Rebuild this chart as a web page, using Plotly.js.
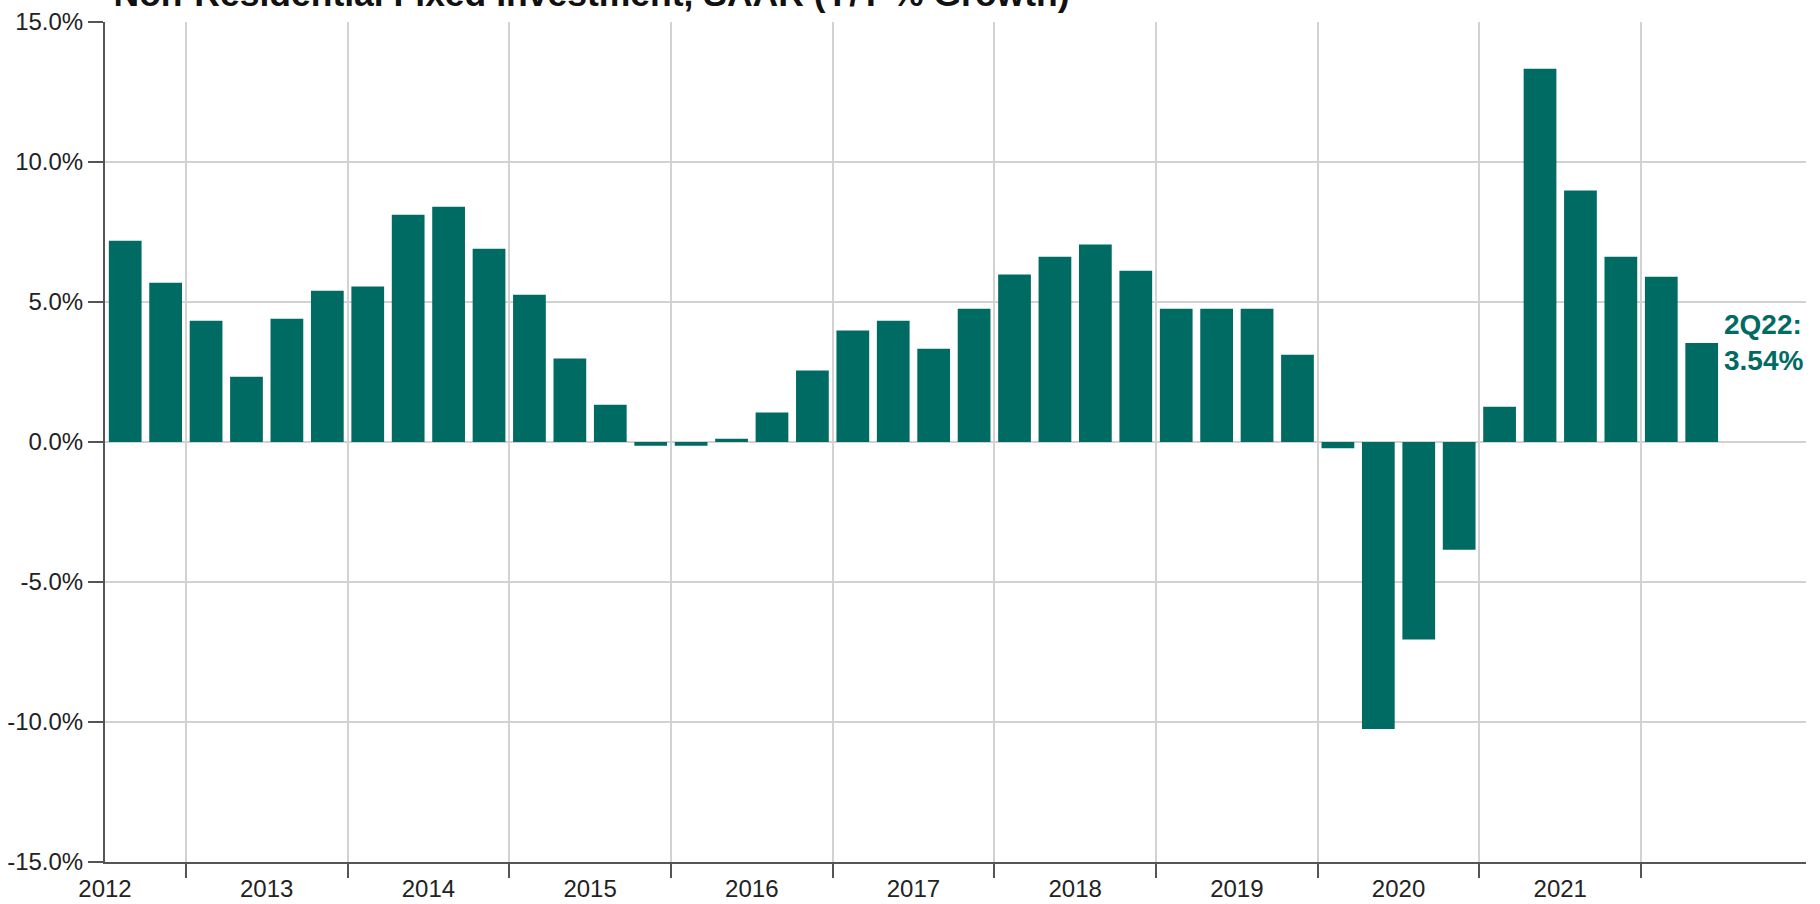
<!DOCTYPE html>
<html>
<head>
<meta charset="utf-8">
<script src="https://cdn.plot.ly/plotly-3.0.1.min.js"></script>
<style>
html,body{margin:0;padding:0;background:#fff;}
#chart{width:1820px;height:904px;}
</style>
</head>
<body>
<div id="chart"></div>
<script>
// Quarterly data (3Q12 .. 2Q22)
const years    = [2012,2012,2013,2013,2013,2013,2014,2014,2014,2014,2015,2015,2015,2015,2016,2016,2016,2016,2017,2017,2017,2017,2018,2018,2018,2018,2019,2019,2019,2019,2020,2020,2020,2020,2021,2021,2021,2021,2022,2022];
const quarters = [3,4,1,2,3,4,1,2,3,4,1,2,3,4,1,2,3,4,1,2,3,4,1,2,3,4,1,2,3,4,1,2,3,4,1,2,3,4,1,2];
const growth   = [7.19,5.69,4.33,2.33,4.40,5.40,5.55,8.12,8.40,6.90,5.26,2.98,1.33,-0.13,-0.13,0.12,1.05,2.55,3.98,4.33,3.33,4.76,5.98,6.62,7.05,6.12,4.76,4.76,4.76,3.12,-0.22,-10.25,-7.05,-3.85,1.26,13.33,8.98,6.62,5.90,3.54];

const yearLabels = ["2012","2013","2014","2015","2016","2017","2018","2019","2020","2021"];
const yearBoundaries = [2013,2014,2015,2016,2017,2018,2019,2020,2021,2022];
const yTickVals = [-15,-10,-5,0,5,10,15];
const yTickText = ["-15.0%","-10.0%","-5.0%","0.0%","5.0%","10.0%","15.0%"];

const titleText = "Non-Residential Fixed Investment, SAAR (Y/Y % Growth)";
const teal = "#006b63";
const font = "Liberation Sans, Arial, sans-serif";

const xPos = years.map((y, i) => y + (quarters[i] - 0.5) / 4);
const lastLabel = quarters[quarters.length-1] + "Q" + String(years[years.length-1]).slice(2);
const lastVal = growth[growth.length-1];

const trace = {
  type: "bar",
  x: xPos,
  y: growth,
  marker: {color: teal, line: {width: 0}},
  hoverinfo: "y"
};

const layout = {
  width: 1820,
  height: 904,
  margin: {l: 105, r: 14, t: 22, b: 42, pad: 0},
  paper_bgcolor: "#ffffff",
  plot_bgcolor: "#ffffff",
  bargap: 0.19,
  showlegend: false,
  font: {family: font, color: "#222222", size: 24},
  title: {
    text: "<b>" + titleText + "</b>",
    font: {family: font, size: 35.5, color: "#111111"},
    xref: "paper", x: 0.005, xanchor: "left",
    yref: "paper", y: 1, yanchor: "bottom",
    pad: {b: 16, t: 0, l: 0, r: 0}
  },
  xaxis: {
    type: "linear",
    range: [2012.5, 2023.02],
    tickmode: "array",
    tickvals: yearLabels.map(s => Number(s) + 0.5),
    ticktext: yearLabels,
    ticks: "outside",
    ticklen: 4,
    tickwidth: 2,
    tickcolor: "rgba(0,0,0,0)",
    showgrid: false,
    zeroline: false,
    showline: true,
    linecolor: "#555555",
    linewidth: 2,
    tickfont: {family: font, size: 24, color: "#222222"},
    minor: {
      tickmode: "array",
      tickvals: yearBoundaries,
      ticks: "outside",
      ticklen: 14,
      tickwidth: 2,
      tickcolor: "#555555",
      showgrid: true,
      gridcolor: "#d2d2d2",
      gridwidth: 2
    },
    fixedrange: true
  },
  yaxis: {
    range: [-15, 15],
    tickmode: "array",
    tickvals: yTickVals,
    ticktext: yTickText,
    ticks: "outside",
    ticklen: 15,
    tickwidth: 2,
    tickcolor: "#555555",
    showgrid: true,
    gridcolor: "#d2d2d2",
    gridwidth: 2,
    zeroline: false,
    showline: true,
    linecolor: "#555555",
    linewidth: 2,
    tickfont: {family: font, size: 24, color: "#222222"},
    ticklabelstandoff: 0,
    fixedrange: true
  },
  annotations: [{
    xref: "x", yref: "y",
    x: xPos[xPos.length-1] + 0.125, y: lastVal,
    xanchor: "left", yanchor: "middle", align: "left",
    showarrow: false,
    text: "<b>" + lastLabel + ":<br>" + lastVal.toFixed(2) + "%</b>",
    font: {family: font, size: 28, color: teal}
  }]
};

Plotly.newPlot("chart", [trace], layout, {displayModeBar: false, staticPlot: true});
</script>
</body>
</html>
